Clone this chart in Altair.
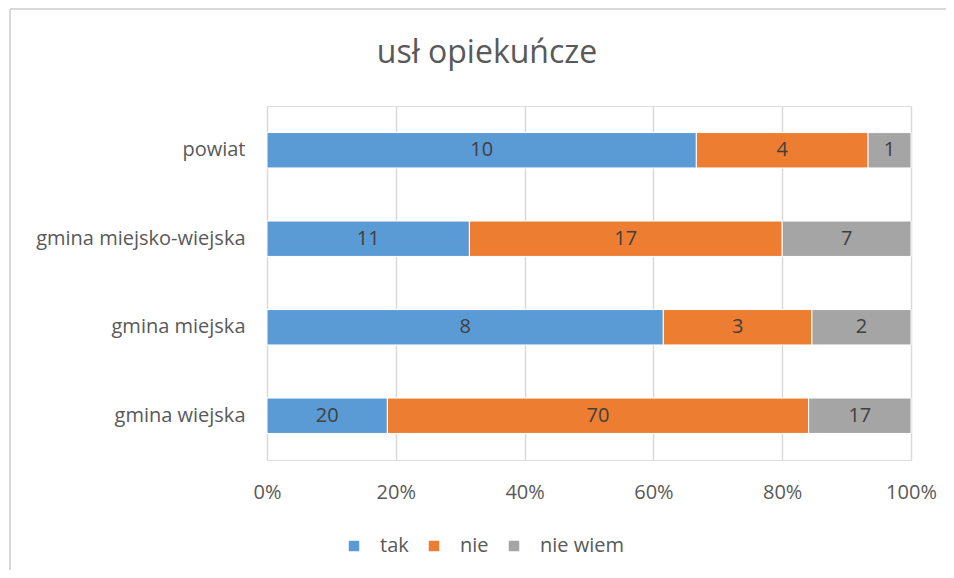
import altair as alt
import pandas as pd

categories = ["powiat", "gmina miejsko-wiejska", "gmina miejska", "gmina wiejska"]
series = ["tak", "nie", "nie wiem"]
tak = [10, 11, 8, 20]
nie = [4, 17, 3, 70]
nie_wiem = [1, 7, 2, 17]
colors = ["#5B9BD5", "#ED7D31", "#A5A5A5"]
x_ticks = [0, 0.2, 0.4, 0.6, 0.8, 1.0]
title_text = "usł opiekuńcze"

rows = []
for i, c in enumerate(categories):
    for j, (s, vals) in enumerate(zip(series, [tak, nie, nie_wiem])):
        rows.append({"kategoria": c, "seria": s, "wartosc": vals[i], "kolejnosc": j})
df = pd.DataFrame(rows)

FONT = "Open Sans"
GRAY = "#595959"
FS = 20

base = alt.Chart(df).transform_joinaggregate(
    total="sum(wartosc)", groupby=["kategoria"]
).transform_calculate(
    frac="datum.wartosc / datum.total"
).transform_stack(
    stack="frac", groupby=["kategoria"], as_=["x0", "x1"],
    sort=[alt.SortField("kolejnosc", order="ascending")]
).transform_calculate(
    xm="(datum.x0 + datum.x1) / 2"
)

yenc = alt.Y(
    "kategoria:N", sort=categories, title=None,
    scale=alt.Scale(paddingInner=0.6, paddingOuter=0.3),
    axis=alt.Axis(domain=False, ticks=False, labelPadding=22, labelFontSize=FS,
                  labelColor=GRAY, labelFont=FONT, grid=False, labelLimit=400),
)

bars = base.mark_bar(stroke="white", strokeWidth=1).encode(
    x=alt.X("x0:Q", title=None,
            scale=alt.Scale(domain=[0, 1], nice=False),
            axis=alt.Axis(values=x_ticks, format="%", domain=False, ticks=False,
                          labelFlush=False, labelPadding=22, labelFontSize=FS,
                          labelColor=GRAY, labelFont=FONT, grid=True,
                          gridColor="#D9D9D9", gridWidth=1.5)),
    x2="x1:Q",
    y=yenc,
    color=alt.Color("seria:N", sort=series,
                    scale=alt.Scale(domain=series, range=colors),
                    legend=alt.Legend(title=None, orient="none", direction="horizontal",
                                      legendX=77, legendY=430, symbolType="square",
                                      symbolSize=110, symbolStrokeWidth=0,
                                      labelFontSize=FS, labelColor=GRAY, labelFont=FONT,
                                      labelOffset=16, columnPadding=15)),
    order=alt.Order("kolejnosc:Q"),
)

labels = base.mark_text(fontSize=FS, color="#404040", font=FONT).encode(
    x="xm:Q",
    y=alt.Y("kategoria:N", sort=categories),
    text="wartosc:Q",
)

title = alt.Chart(pd.DataFrame({"t": [title_text]})).mark_text(
    fontSize=32, font=FONT, color=GRAY, align="center", baseline="alphabetic"
).encode(
    x=alt.value(220), y=alt.value(-43), text="t:N"
)

frame = pd.DataFrame({"a": [0]})
border_top = alt.Chart(frame).mark_rule(stroke="#D9D9D9", strokeWidth=2).encode(
    x=alt.value(-257), x2=alt.value(700), y=alt.value(-97)
)
border_left = alt.Chart(frame).mark_rule(stroke="#D9D9D9", strokeWidth=2).encode(
    x=alt.value(-257), y=alt.value(-97), y2=alt.value(480)
)

chart = alt.layer(border_top, border_left, title, bars, labels).properties(
    width=644, height=354,
    padding={"left": 259, "top": 98, "right": 35, "bottom": 110},
    autosize=alt.AutoSizeParams(type="none"),
).configure_view(stroke=None).configure(background="white")

chart.save("out.html", embed_options={"renderer": "svg", "actions": False})
